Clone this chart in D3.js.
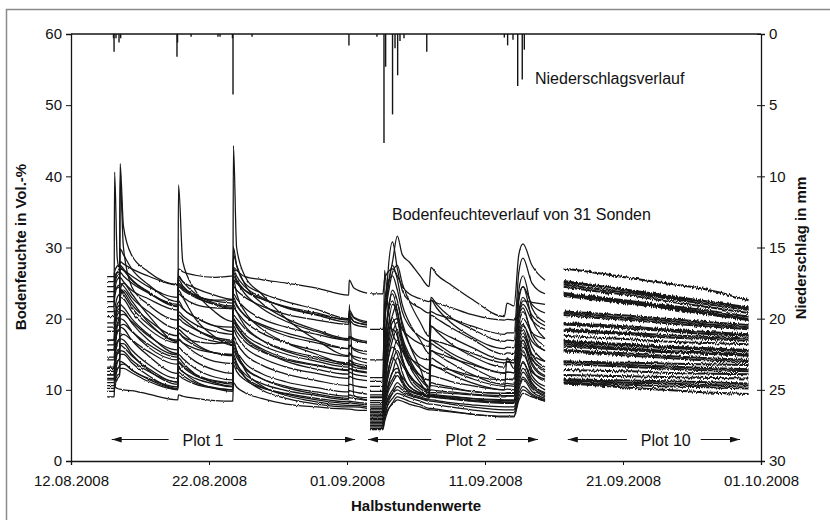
<!DOCTYPE html>
<html>
<head>
<meta charset="utf-8">
<script src="https://cdn.jsdelivr.net/npm/d3@7/dist/d3.min.js"></script>
<style>
  body { margin: 0; background: #fff; }
  svg { display: block; }
  text { font-family: Arial, "Liberation Sans", sans-serif; fill: #111; }
</style>
</head>
<body>
<svg id="chart" width="830" height="520"></svg>
<script>
// ---- axis ticks ----
const dateTicks = ["2008-08-12", "2008-08-22", "2008-09-01", "2008-09-11", "2008-09-21", "2008-10-01"];
const moistureTicks = [0, 10, 20, 30, 40, 50, 60];
const rainTicks = [0, 5, 10, 15, 20, 25, 30];

// ---- precipitation (days after 12.08.2008, mm per half hour) ----
const rainDays = [3.08, 3.12, 3.26, 3.48, 3.60, 7.68, 7.72, 8.70, 10.65, 10.80, 11.70, 11.74, 13.12, 20.14,
  22.17, 22.68, 22.80, 23.30, 23.48, 23.67, 23.84, 24.13, 25.78, 31.40, 31.64, 32.03, 32.37, 32.70, 32.85];
const rainMm = [0.3, 1.25, 0.3, 0.6, 0.3, 1.6, 0.6, 0.2, 0.2, 0.2, 0.3, 4.25, 0.2, 0.8,
  0.2, 7.65, 2.3, 5.65, 1.0, 2.9, 0.5, 0.3, 1.25, 0.25, 0.8, 0.4, 3.65, 3.2, 1.1];

// ---- soil moisture, Plot 1 (Vol.-%, one row per probe) ----
const plot1Days = [2.62, 3.12, 3.16, 3.35, 3.52, 3.56, 3.80, 4.40, 5.60, 7.74, 7.79, 8.10, 9.00, 10.40,
  11.72, 11.77, 12.00, 12.60, 13.80, 15.60, 17.80, 20.12, 20.16, 20.50, 21.45];
const plot1Probes = [
  [25.9,25.9,26.6,27.4,27.6,28.0,27.7,27.0,26.0,24.7,27.0,26.6,26.1,25.8,26.0,27.2,26.8,25.9,25.5,25.0,24.3,23.3,25.4,24.3,23.6],
  [21.0,21.0,40.6,28.5,27.0,27.5,27.0,25.5,23.8,21.8,24.5,24.0,23.0,22.0,21.4,26.5,25.5,24.0,22.8,21.7,20.8,19.8,20.5,19.6,19.1],
  [23.1,23.1,24.0,24.3,24.5,41.8,33.0,28.9,26.6,24.8,25.8,25.2,24.3,23.3,22.7,30.0,27.5,25.0,23.6,22.4,21.3,20.0,21.2,20.2,19.6],
  [17.0,17.0,18.5,19.0,19.2,39.8,30.0,24.5,22.0,19.8,22.5,21.5,20.2,19.0,18.2,23.0,22.0,20.5,19.2,18.0,16.9,15.8,16.4,15.6,15.0],
  [15.6,15.6,17.5,20.5,21.0,23.0,24.0,22.5,19.5,16.8,38.8,28.0,24.0,21.0,19.6,25.5,23.5,21.0,18.6,16.6,15.0,13.6,14.2,13.6,13.0],
  [12.1,12.1,14.0,19.0,20.5,24.0,25.0,23.5,20.5,16.8,24.0,23.0,20.0,17.5,16.2,44.3,30.0,26.0,23.5,20.0,17.0,14.8,15.2,14.4,13.8],
  [25.2,25.2,25.8,26.5,26.3,27.0,26.8,26.0,24.5,23.0,25.0,24.4,23.3,22.6,22.6,27.0,26.0,24.5,23.0,21.5,20.5,19.5,20.2,19.6,19.2],
  [22.4,22.4,23.5,25.5,25.8,26.5,26.0,25.0,23.6,22.0,24.8,24.2,23.2,22.5,22.2,25.5,25.0,24.0,22.8,21.6,20.6,19.9,20.8,20.1,19.4],
  [21.7,21.7,22.8,24.5,24.8,25.8,25.2,24.0,22.8,21.2,23.5,23.0,22.0,21.5,21.4,24.5,24.0,23.0,21.8,20.6,19.8,19.2,19.8,19.2,18.8],
  [20.3,20.3,21.0,23.0,23.5,25.0,24.6,23.0,21.0,18.6,22.0,21.4,20.2,19.0,18.8,23.5,22.8,21.5,20.0,18.8,17.8,17.0,17.4,17.0,16.6],
  [19.4,19.4,20.0,22.0,22.6,24.2,23.8,22.0,19.8,17.6,21.0,20.4,19.2,18.2,17.8,22.5,21.8,20.4,19.0,17.6,16.6,15.8,16.2,15.8,15.4],
  [18.2,18.2,19.0,21.0,21.5,23.0,22.8,21.0,18.6,16.6,20.0,19.5,18.5,17.4,17.0,21.5,21.0,19.6,18.0,16.6,15.5,14.7,15.0,14.7,14.3],
  [14.6,14.6,15.5,18.0,18.5,20.5,20.6,19.6,17.6,15.6,19.0,18.6,17.6,16.8,16.5,20.5,20.0,18.6,17.0,15.6,14.6,13.8,14.1,13.8,13.4],
  [13.0,13.0,14.0,16.5,17.2,19.0,19.2,18.2,16.4,14.6,18.0,17.5,16.8,16.5,16.8,20.0,19.3,17.8,16.3,15.0,14.0,13.2,13.5,13.2,12.9],
  [11.6,11.6,12.5,15.0,15.8,17.5,17.8,17.0,15.4,13.6,17.0,16.6,15.8,15.2,15.0,19.0,18.2,16.8,15.4,14.2,13.4,12.7,13.0,12.7,12.4],
  [17.0,17.0,18.0,20.0,20.2,22.0,21.6,20.0,17.8,15.1,18.5,18.0,16.5,15.2,14.9,19.5,18.8,17.2,15.6,14.0,12.9,12.2,12.5,12.2,11.9],
  [15.6,15.6,16.2,18.2,18.6,20.0,19.8,18.3,16.0,14.2,17.2,16.6,15.2,14.0,13.7,18.5,17.6,16.0,14.5,13.2,12.3,11.6,11.9,11.6,11.3],
  [14.2,14.2,14.8,16.8,17.2,18.8,18.6,17.0,14.8,12.3,16.0,15.4,14.0,12.8,12.3,17.5,16.6,15.0,13.5,12.2,11.3,10.6,10.8,10.6,10.3],
  [13.2,13.2,13.8,15.5,15.8,17.2,17.0,15.6,13.6,11.6,15.0,14.4,13.0,11.8,11.4,16.5,15.5,13.8,12.3,11.1,10.3,9.7,9.9,9.7,9.4],
  [12.1,12.1,12.6,14.0,14.3,15.5,15.4,14.2,12.6,11.1,14.0,13.4,12.2,11.3,11.0,15.5,14.6,13.0,11.6,10.5,9.7,9.1,9.3,9.1,8.9],
  [11.4,11.4,11.8,13.0,13.2,14.0,13.8,12.8,11.6,10.4,13.0,12.5,11.6,10.8,10.4,14.5,13.6,12.2,10.9,9.9,9.2,8.6,22.0,9.2,8.6],
  [10.6,10.6,11.0,12.0,12.3,13.0,13.0,12.4,11.2,10.0,12.0,11.6,10.8,10.2,10.0,13.5,12.6,11.4,10.3,9.5,8.8,8.3,8.4,8.3,8.1],
  [9.0,9.0,10.4,10.2,10.1,10.1,10.0,9.9,9.4,8.6,9.3,9.1,8.8,8.5,8.4,11.0,10.4,9.6,8.8,8.0,7.6,7.3,7.3,7.2,7.1],
  [9.8,9.8,10.2,11.5,12.0,13.5,13.6,12.8,11.5,10.1,12.5,12.0,11.0,10.3,10.0,14.0,13.2,11.8,10.4,9.4,8.6,8.1,8.2,8.1,7.9],
  [12.6,12.6,13.3,15.0,15.3,16.3,16.0,14.8,13.0,11.1,13.8,13.2,12.0,11.2,10.8,16.0,15.0,13.2,11.6,10.3,9.4,8.8,8.9,8.8,8.5],
  [23.8,23.8,24.6,26.0,26.2,27.2,26.8,25.4,23.7,21.7,25.5,24.6,23.2,22.0,21.6,26.0,25.2,23.5,21.5,19.6,18.2,17.0,17.3,17.0,16.6],
  [24.5,24.5,25.2,26.5,27.0,29.8,29.0,27.0,24.8,22.4,26.0,25.2,23.5,22.2,21.8,29.0,27.5,24.8,22.2,20.0,18.4,17.2,17.5,17.2,16.8],
  [10.2,10.2,10.8,12.8,13.5,15.0,15.0,13.8,12.0,10.2,13.2,12.6,11.2,10.2,9.8,15.0,13.8,11.8,10.0,8.8,8.0,7.6,7.6,7.6,7.4],
  [11.0,11.0,11.6,13.8,14.5,16.5,16.5,15.0,12.8,10.8,14.5,13.8,12.2,11.0,10.5,17.0,15.5,12.8,10.6,9.2,8.3,7.8,7.8,7.8,7.6],
  [18.8,18.8,19.5,21.5,22.0,24.0,23.4,21.6,19.2,17.0,20.5,20.0,18.6,17.2,16.8,22.0,21.0,19.0,17.0,15.4,14.3,13.5,13.7,13.5,13.1],
  [16.3,16.3,17.0,19.2,19.6,21.2,21.0,19.4,17.0,14.9,18.0,17.4,16.2,15.2,14.8,20.0,19.0,17.4,15.8,14.4,13.5,12.8,13.0,12.8,12.5]
];

// ---- soil moisture, Plot 2 ----
const plot2Days = [21.67, 22.60, 22.72, 22.95, 23.30, 23.65, 24.00, 24.50, 25.30, 25.95, 26.08,
  26.50, 27.50, 29.00, 31.40, 31.60, 32.10, 32.45, 32.75, 33.40, 34.35];
const plot2Probes = [
  [11.7,11.7,20.0,24.0,28.0,31.6,29.0,28.0,26.0,24.5,27.2,26.2,24.8,22.8,20.3,22.2,21.8,29.0,30.5,27.5,25.4],
  [6.6,6.6,18.0,26.0,30.8,27.0,24.0,22.5,21.5,20.8,21.0,20.6,20.0,19.0,17.8,18.0,18.0,26.5,28.5,25.0,23.5],
  [8.2,8.2,26.8,22.0,18.0,16.5,15.5,14.5,13.5,12.8,19.0,18.2,16.5,14.8,13.2,14.0,13.8,22.5,24.5,22.0,20.8],
  [23.5,23.5,25.5,26.5,27.0,26.0,24.5,23.5,22.8,22.4,22.6,22.2,21.6,20.6,19.8,19.9,19.8,21.0,22.5,22.3,22.0],
  [18.5,18.5,20.0,23.0,26.5,27.5,25.0,22.5,19.5,17.5,23.0,22.0,20.2,18.6,16.8,17.0,16.9,24.0,26.0,21.5,19.5],
  [14.2,14.2,19.0,24.0,27.5,25.5,22.0,19.5,17.0,15.1,15.5,15.2,14.5,13.6,12.3,12.5,12.4,23.0,24.5,20.0,17.2],
  [11.2,11.2,14.0,20.0,24.0,22.5,19.0,16.5,14.5,14.2,22.6,21.5,19.5,17.5,15.8,16.0,15.9,20.5,22.0,19.8,18.5],
  [10.5,10.5,13.0,18.0,22.0,21.0,17.5,15.0,13.0,12.3,13.5,13.2,12.8,12.0,11.4,11.5,11.5,20.0,21.5,17.5,15.5],
  [9.8,9.8,12.5,16.5,19.5,20.0,18.5,17.5,16.5,16.1,20.5,20.0,18.8,17.2,15.0,15.2,15.1,18.5,20.0,18.0,17.2],
  [9.3,9.3,11.5,15.0,18.0,19.5,17.0,14.5,12.0,11.4,12.0,11.8,11.2,10.6,10.0,14.5,13.0,18.0,19.2,16.0,14.0],
  [8.9,8.9,15.0,21.0,23.5,21.0,17.0,14.0,11.5,10.4,11.0,10.8,10.4,9.8,9.5,9.6,9.6,17.0,18.5,15.0,13.2],
  [8.5,8.5,12.0,17.0,20.5,22.0,19.5,16.5,13.0,10.0,16.5,16.0,14.8,13.2,11.4,11.5,11.4,16.5,18.0,14.5,12.5],
  [7.9,7.9,10.5,14.0,17.0,18.5,16.0,13.5,11.0,9.5,9.6,9.6,9.5,9.3,9.0,9.1,9.1,15.5,17.0,13.5,11.8],
  [7.6,7.6,13.0,18.5,20.0,18.0,14.5,11.5,9.8,9.0,9.2,9.1,9.0,8.8,8.6,8.6,8.6,14.5,16.5,12.8,11.2],
  [7.3,7.3,9.5,12.5,15.0,17.0,15.5,13.5,12.0,11.4,18.9,18.4,17.4,16.0,14.2,14.3,14.2,17.5,19.0,16.8,15.5],
  [7.0,7.0,9.0,11.5,14.0,15.5,14.0,12.2,10.5,9.8,10.0,9.9,9.7,9.4,9.2,9.2,9.2,13.0,15.5,12.0,10.5],
  [6.8,6.8,8.5,10.5,12.5,14.5,13.5,12.0,10.6,10.0,17.0,16.5,15.2,13.8,12.4,12.5,12.4,16.0,17.5,15.0,14.0],
  [6.4,6.4,8.0,10.0,11.5,12.5,11.8,10.5,9.5,9.0,9.1,9.0,8.8,8.5,8.2,8.2,8.2,12.0,14.0,11.0,9.6],
  [6.2,6.2,7.5,9.5,11.0,12.0,11.0,10.0,9.3,9.0,13.5,13.2,12.2,11.0,10.0,10.1,10.0,13.5,15.0,12.5,11.5],
  [6.0,6.0,7.2,8.8,10.0,11.0,10.4,9.8,9.3,9.2,9.2,9.1,8.9,8.6,8.3,8.3,8.3,11.0,12.5,10.5,9.2],
  [5.8,5.8,7.0,8.5,9.5,10.0,9.6,9.2,8.8,8.6,8.6,8.5,8.2,7.9,7.6,7.6,7.6,10.0,11.5,9.8,8.8],
  [5.6,5.6,6.5,7.8,8.8,9.5,9.3,8.9,8.4,8.0,8.0,7.9,7.6,7.2,6.8,6.8,6.8,9.5,10.5,9.4,8.6],
  [5.4,5.4,6.2,7.2,8.0,8.6,8.4,8.0,7.6,7.2,7.2,7.1,6.9,6.6,6.2,6.2,6.2,9.0,10.0,9.2,8.4],
  [5.2,5.2,9.0,14.0,16.0,15.0,12.5,10.5,9.6,9.3,9.4,9.3,9.1,8.8,8.5,8.5,8.5,12.5,13.8,11.5,10.0],
  [5.0,5.0,8.0,12.0,14.5,13.5,11.5,10.0,9.4,9.0,9.0,8.9,8.7,8.4,8.1,8.1,8.1,11.5,13.0,10.8,9.4],
  [4.8,4.8,7.0,10.0,12.5,13.0,11.0,9.6,9.0,8.7,15.5,15.0,13.8,12.2,10.8,10.9,10.8,14.0,16.0,14.2,12.8],
  [4.6,4.6,6.0,8.0,9.5,10.5,10.0,9.4,8.8,8.4,8.4,8.3,8.0,7.6,7.2,7.2,7.2,10.5,11.8,10.2,9.0],
  [4.4,4.4,5.5,7.0,8.2,9.0,8.8,8.4,7.9,7.4,7.4,7.3,7.0,6.6,6.3,6.3,6.3,8.5,9.5,9.0,8.4],
  [9.0,9.0,22.0,25.0,26.0,24.0,21.0,19.0,17.5,16.8,17.0,16.8,16.2,15.2,13.8,13.9,13.8,21.0,23.0,20.5,19.0],
  [7.4,7.4,16.0,20.5,22.5,20.0,16.5,14.0,12.0,10.5,10.6,10.5,10.2,9.8,9.5,9.5,9.5,19.0,21.0,18.0,16.2],
  [6.9,6.9,11.0,15.5,18.5,17.5,14.5,12.0,10.2,9.6,14.5,14.0,12.8,11.6,10.5,10.6,10.5,15.0,17.0,13.8,12.0]
];

// ---- soil moisture, Plot 10 ----
const plot10Days = [35.7, 37.5, 40.5, 43.0, 45.5, 49.1];
const plot10Probes = [
  [27.0,26.6,25.7,25.0,24.3,22.6],
  [25.3,24.8,24.0,23.3,22.6,21.6],
  [25.1,24.7,23.9,23.1,22.5,21.4],
  [24.8,24.3,23.6,22.9,22.2,21.2],
  [24.5,24.0,23.3,22.5,21.8,20.8],
  [23.6,23.2,22.5,21.9,21.3,20.3],
  [23.4,23.0,22.3,21.7,21.0,20.0],
  [23.2,22.8,22.1,21.5,20.8,19.8],
  [21.0,20.8,20.4,20.0,19.6,19.1],
  [20.8,20.5,20.1,19.7,19.3,18.8],
  [20.5,20.2,19.8,19.4,19.0,18.5],
  [19.4,19.2,18.9,18.5,18.2,17.8],
  [19.2,19.0,18.6,18.3,17.9,17.6],
  [18.5,18.3,18.0,17.7,17.5,17.2],
  [18.3,18.1,17.8,17.4,17.2,16.9],
  [17.6,17.4,17.1,16.8,16.6,16.4],
  [16.9,16.7,16.4,16.1,15.9,15.6],
  [16.7,16.5,16.2,15.9,15.7,15.4],
  [16.4,16.2,15.8,15.5,15.3,15.0],
  [16.1,15.9,15.6,15.3,15.1,14.8],
  [15.6,15.4,15.1,14.8,14.5,14.2],
  [15.4,15.2,14.8,14.5,14.2,13.9],
  [14.0,13.9,13.8,13.7,13.6,13.5],
  [13.9,13.8,13.5,13.3,13.1,12.9],
  [12.8,12.7,12.6,12.4,12.3,12.2],
  [12.1,12.0,11.9,11.8,11.7,11.6],
  [11.5,11.4,11.3,11.2,11.1,10.9],
  [11.3,11.2,11.0,10.9,10.7,10.6],
  [11.0,10.9,10.7,10.5,10.4,10.2],
  [10.9,10.7,10.3,10.0,9.7,9.4],
  [13.6,13.5,13.2,13.0,12.8,12.6]
];

// ---- plot section labels ----
const plotNames = ["Plot 1", "Plot 2", "Plot 10"];

// ================= drawing =================
const svg = d3.select("#chart");
const parseDay = d3.utcParse("%Y-%m-%d");
const tickDates = dateTicks.map(parseDay);
const origin = tickDates[0].getTime();
const toDate = d => new Date(origin + d * 864e5);

const x = d3.scaleUtc().domain(d3.extent(tickDates)).range([71, 761]);
const y = d3.scaleLinear().domain([0, 60]).range([461, 34]);
const yRain = d3.scaleLinear().domain([0, 30]).range([34, 461]);
const ink = "#141414";

const defs = svg.append("defs");

// sensor-noise texture for the half-hourly traces (vertical jitter only)
function jitterFilter(id, freq, scale) {
  const f = defs.append("filter").attr("id", id)
    .attr("x", "-2%").attr("y", "-10%").attr("width", "104%").attr("height", "120%");
  f.append("feTurbulence").attr("type", "fractalNoise")
    .attr("baseFrequency", freq).attr("numOctaves", 2).attr("seed", 7).attr("result", "noise");
  f.append("feColorMatrix").attr("in", "noise").attr("type", "matrix")
    .attr("values", "0 0 0 0 0.5  0 1 0 0 0  0 0 0 0 0  0 0 0 0 1").attr("result", "shift");
  f.append("feDisplacementMap").attr("in", "SourceGraphic").attr("in2", "shift")
    .attr("scale", scale).attr("xChannelSelector", "R").attr("yChannelSelector", "G");
}
jitterFilter("jitterFine", "0.6 0.08", 2.2);
jitterFilter("jitterBand", "0.8 0.12", 4.5);

// outer frame
svg.append("rect")
  .attr("x", 6.5).attr("y", 9.5).attr("width", 840).attr("height", 530)
  .attr("fill", "none").attr("stroke", "#8a8a8a").attr("stroke-width", 1.5);

// soil moisture traces
const moistLine = d3.line()
  .x(d => x(toDate(d[0])))
  .y(d => y(d[1]))
  .curve(d3.curveMonotoneX);

const segments = [
  { days: plot1Days, probes: plot1Probes, width: 1.25, filter: "jitterFine" },
  { days: plot2Days, probes: plot2Probes, width: 1.25, filter: "jitterFine" },
  { days: plot10Days, probes: plot10Probes, width: 2.0, filter: "jitterBand" }
];

const traces = svg.append("g").attr("fill", "none").attr("stroke", ink);
segments.forEach(seg => {
  traces.append("g")
    .attr("stroke-width", seg.width)
    .attr("filter", `url(#${seg.filter})`)
    .selectAll("path")
    .data(seg.probes)
    .join("path")
    .attr("d", row => moistLine(row.map((v, i) => [seg.days[i], v])));
});

// precipitation hanging from the top
const rainG = svg.append("g").attr("stroke", ink);
rainG.append("line")
  .attr("x1", x.range()[0]).attr("x2", x.range()[1])
  .attr("y1", yRain(0)).attr("y2", yRain(0))
  .attr("stroke-width", 1.4);
rainG.selectAll("line.rain")
  .data(rainDays.map((d, i) => [d, rainMm[i]]))
  .join("line")
  .attr("class", "rain")
  .attr("x1", d => x(toDate(d[0]))).attr("x2", d => x(toDate(d[0])))
  .attr("y1", yRain(0)).attr("y2", d => yRain(d[1]))
  .attr("stroke-width", 1.4);

// axes
const fontSize = 15;
const leftAxis = svg.append("g")
  .attr("transform", "translate(71,0)")
  .call(d3.axisLeft(y).tickValues(moistureTicks).tickSize(5).tickPadding(4));
const rightAxis = svg.append("g")
  .attr("transform", "translate(761,0)")
  .call(d3.axisRight(yRain).tickValues(rainTicks).tickSize(4).tickPadding(4));
rightAxis.selectAll(".tick line").attr("x1", -4);
const bottomAxis = svg.append("g")
  .attr("transform", "translate(0,461)")
  .call(d3.axisBottom(x).tickValues(tickDates).tickFormat(d3.utcFormat("%d.%m.%Y")).tickSize(4).tickPadding(10));

[leftAxis, rightAxis, bottomAxis].forEach(g => {
  g.select(".domain").attr("stroke", ink).attr("stroke-width", 1.3);
  g.selectAll(".tick line").attr("stroke", ink);
  g.selectAll(".tick text")
    .attr("font-size", fontSize)
    .attr("font-family", "Arial, 'Liberation Sans', sans-serif")
    .attr("fill", "#111");
});

// axis titles
svg.append("text")
  .attr("transform", "translate(26,247) rotate(-90)")
  .attr("text-anchor", "middle")
  .attr("font-size", 15).attr("font-weight", "bold")
  .text("Bodenfeuchte in Vol.-%");
svg.append("text")
  .attr("transform", "translate(806,248) rotate(-90)")
  .attr("text-anchor", "middle")
  .attr("font-size", 15).attr("font-weight", "bold")
  .text("Niederschlag in mm");
svg.append("text")
  .attr("x", 416).attr("y", 511)
  .attr("text-anchor", "middle")
  .attr("font-size", 15).attr("font-weight", "bold")
  .text("Halbstundenwerte");

// in-plot annotations
svg.append("text").attr("x", 535).attr("y", 84).attr("font-size", 16).text("Niederschlagsverlauf");
svg.append("text").attr("x", 392).attr("y", 220).attr("font-size", 16).text("Bodenfeuchteverlauf von 31 Sonden");

// arrow heads
defs.append("marker")
  .attr("id", "arrowhead")
  .attr("viewBox", "0 0 10 6")
  .attr("refX", 10).attr("refY", 3)
  .attr("markerWidth", 10).attr("markerHeight", 6)
  .attr("markerUnits", "userSpaceOnUse")
  .attr("orient", "auto-start-reverse")
  .append("path").attr("d", "M0,0 L10,3 L0,6 Z").attr("fill", ink);

// section labels with arrows spanning each measuring period
const spans = [[2.95, 20.58, 9.57], [21.52, 33.84, 28.6], [36.0, 48.48, 43.1]];
const arrowY = 439.5;
const labelG = svg.append("g");
plotNames.forEach((name, i) => {
  const [a, b, c] = spans[i];
  const xa = x(toDate(a)), xb = x(toDate(b)), xc = x(toDate(c));
  const t = labelG.append("text")
    .attr("x", xc).attr("y", arrowY + 6)
    .attr("text-anchor", "middle").attr("font-size", 16)
    .text(name);
  const w = t.node().getComputedTextLength();
  labelG.append("line")
    .attr("x1", xc - w / 2 - 14).attr("x2", xa)
    .attr("y1", arrowY).attr("y2", arrowY)
    .attr("stroke", ink).attr("stroke-width", 1.2)
    .attr("marker-end", "url(#arrowhead)");
  labelG.append("line")
    .attr("x1", xc + w / 2 + 10).attr("x2", xb)
    .attr("y1", arrowY).attr("y2", arrowY)
    .attr("stroke", ink).attr("stroke-width", 1.2)
    .attr("marker-end", "url(#arrowhead)");
});
</script>
</body>
</html>
